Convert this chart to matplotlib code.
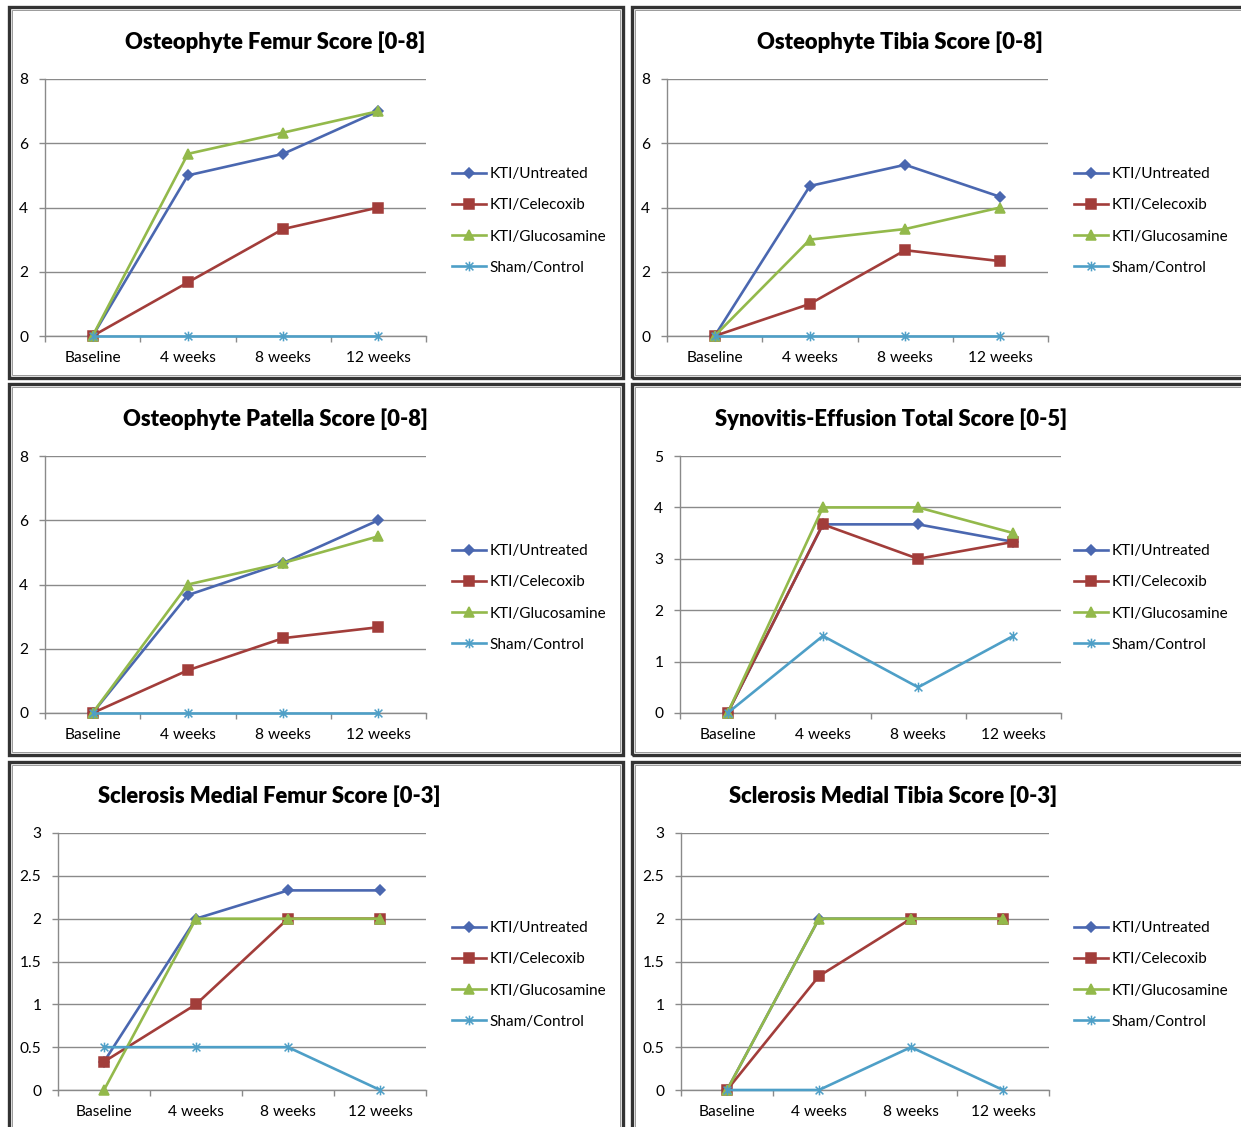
import matplotlib
matplotlib.use("Agg")
import matplotlib.pyplot as plt
from matplotlib.patches import Rectangle
from matplotlib.path import Path
from matplotlib.ticker import FixedLocator, FuncFormatter

plt.rcParams["font.family"] = ["Lato", "DejaVu Sans"]

W, H = 1241, 1127

timepoints = ["Baseline", "4 weeks", "8 weeks", "12 weeks"]
groups = ["KTI/Untreated", "KTI/Celecoxib", "KTI/Glucosamine", "Sham/Control"]

titles = [
    "Osteophyte Femur Score [0-8]",
    "Osteophyte Tibia Score [0-8]",
    "Osteophyte Patella Score [0-8]",
    "Synovitis-Effusion Total Score [0-5]",
    "Sclerosis Medial Femur Score [0-3]",
    "Sclerosis Medial Tibia Score [0-3]",
]

# one list per panel, in the order of groups
femur_untreated = [0, 5.0, 5.67, 7.0]
femur_celecoxib = [0, 1.67, 3.33, 4.0]
femur_glucosamine = [0, 5.67, 6.33, 7.0]
femur_sham = [0, 0, 0, 0]

tibia_untreated = [0, 4.67, 5.33, 4.33]
tibia_celecoxib = [0, 1.0, 2.67, 2.33]
tibia_glucosamine = [0, 3.0, 3.33, 4.0]
tibia_sham = [0, 0, 0, 0]

patella_untreated = [0, 3.67, 4.67, 6.0]
patella_celecoxib = [0, 1.33, 2.33, 2.67]
patella_glucosamine = [0, 4.0, 4.67, 5.5]
patella_sham = [0, 0, 0, 0]

synovitis_untreated = [0, 3.67, 3.67, 3.33]
synovitis_celecoxib = [0, 3.67, 3.0, 3.33]
synovitis_glucosamine = [0, 4.0, 4.0, 3.5]
synovitis_sham = [0, 1.5, 0.5, 1.5]

scl_femur_untreated = [0.33, 2.0, 2.33, 2.33]
scl_femur_celecoxib = [0.33, 1.0, 2.0, 2.0]
scl_femur_glucosamine = [0, 2.0, 2.0, 2.0]
scl_femur_sham = [0.5, 0.5, 0.5, 0]

scl_tibia_untreated = [0, 2.0, 2.0, 2.0]
scl_tibia_celecoxib = [0, 1.33, 2.0, 2.0]
scl_tibia_glucosamine = [0, 2.0, 2.0, 2.0]
scl_tibia_sham = [0, 0, 0.5, 0]

y_max = [8, 8, 8, 5, 3, 3]
y_step = [2, 2, 2, 1, 0.5, 0.5]

# panel geometry in pixels: axes x0, x1, y top, y bottom
axes_px = [
    (45, 426, 79, 336),
    (667, 1048, 79, 336),
    (45, 426, 456, 713),
    (680, 1061, 456, 713),
    (58, 426, 833, 1090),
    (681, 1049, 833, 1090),
]
title_px = [(275, 42), (900, 42), (275, 419), (891, 419), (269, 796), (893, 796)]
legend_px = [(452, 221), (1074, 221), (452, 598), (1074, 598), (452, 975), (1074, 975)]
frame_px = [
    (9, 7, 623, 378),
    (632, 7, 1260, 378),
    (9, 384, 623, 755),
    (632, 384, 1260, 755),
    (9, 762, 623, 1140),
    (632, 762, 1260, 1140),
]

colors = ["#4A67B0", "#A23D3A", "#93B94B", "#4E9FC7"]

star = Path(
    [(-1, -1), (1, 1), (-1, 1), (1, -1), (0, -1.25), (0, 1.25)],
    [Path.MOVETO, Path.LINETO, Path.MOVETO, Path.LINETO, Path.MOVETO, Path.LINETO],
)
markers = ["D", "s", "^", star]
marker_sizes = [5.5, 6.5, 7.5, 7]

GRID = "#8a8a8a"


def panel_series():
    return [
        [femur_untreated, femur_celecoxib, femur_glucosamine, femur_sham],
        [tibia_untreated, tibia_celecoxib, tibia_glucosamine, tibia_sham],
        [patella_untreated, patella_celecoxib, patella_glucosamine, patella_sham],
        [synovitis_untreated, synovitis_celecoxib, synovitis_glucosamine, synovitis_sham],
        [scl_femur_untreated, scl_femur_celecoxib, scl_femur_glucosamine, scl_femur_sham],
        [scl_tibia_untreated, scl_tibia_celecoxib, scl_tibia_glucosamine, scl_tibia_sham],
    ]


def draw_frame(fig, box):
    x0, y0, x1, y1 = box
    fig.patches.append(
        Rectangle((x0 / W, 1 - y1 / H), (x1 - x0) / W, (y1 - y0) / H,
                  transform=fig.transFigure, fill=False,
                  edgecolor="#333333", linewidth=2.4)
    )
    fig.patches.append(
        Rectangle(((x0 + 3) / W, 1 - (y1 - 3) / H), (x1 - x0 - 6) / W, (y1 - y0 - 6) / H,
                  transform=fig.transFigure, fill=False,
                  edgecolor="#9a9a9a", linewidth=0.7)
    )


def draw_panel(fig, i, series):
    x0, x1, yt, yb = axes_px[i]
    ax = fig.add_axes([x0 / W, 1 - yb / H, (x1 - x0) / W, (yb - yt) / H])

    xs = [k + 0.5 for k in range(len(timepoints))]
    for g, values in enumerate(series):
        ax.plot(xs, values, color=colors[g], linewidth=1.9, marker=markers[g],
                markersize=marker_sizes[g], markerfacecolor=colors[g],
                markeredgecolor=colors[g], markeredgewidth=1.1,
                label=groups[g], clip_on=False, zorder=3 + g)

    ax.set_xlim(0, len(timepoints))
    ax.set_ylim(0, y_max[i])

    n = int(round(y_max[i] / y_step[i]))
    ax.yaxis.set_major_locator(FixedLocator([k * y_step[i] for k in range(n + 1)]))
    ax.yaxis.set_major_formatter(FuncFormatter(lambda v, p: "%g" % v))

    ax.set_xticks(xs)
    ax.set_xticklabels(timepoints)
    ax.xaxis.set_minor_locator(FixedLocator(range(len(timepoints) + 1)))
    ax.tick_params(axis="x", which="major", length=0, pad=10.5, labelsize=11.2)
    ax.tick_params(axis="x", which="minor", length=4, width=1.0, color=GRID, direction="out")
    ax.tick_params(axis="y", length=4, width=1.0, color=GRID, pad=8, labelsize=11.2)

    ax.yaxis.grid(True, color=GRID, linewidth=1.0)
    ax.set_axisbelow(True)
    for side in ["top", "right"]:
        ax.spines[side].set_visible(False)
    for side in ["left", "bottom"]:
        ax.spines[side].set_color(GRID)
        ax.spines[side].set_linewidth(1.0)

    lx, ly = legend_px[i]
    ax.legend(loc="center left", bbox_to_anchor=(lx / W, 1 - ly / H),
              bbox_transform=fig.transFigure, frameon=False, fontsize=11.0,
              handlelength=2.2, handletextpad=0.25, labelspacing=1.12,
              borderpad=0, borderaxespad=0)

    tx, ty = title_px[i]
    fig.text(tx / W, 1 - ty / H, titles[i], ha="center", va="center",
             fontsize=15.8, fontweight="heavy")


def main():
    fig = plt.figure(figsize=(W / 100, H / 100), dpi=100)
    fig.patch.set_facecolor("white")

    for box in frame_px:
        draw_frame(fig, box)

    for i, series in enumerate(panel_series()):
        draw_panel(fig, i, series)

    fig.savefig("out.png", dpi=100)


if __name__ == "__main__":
    main()
